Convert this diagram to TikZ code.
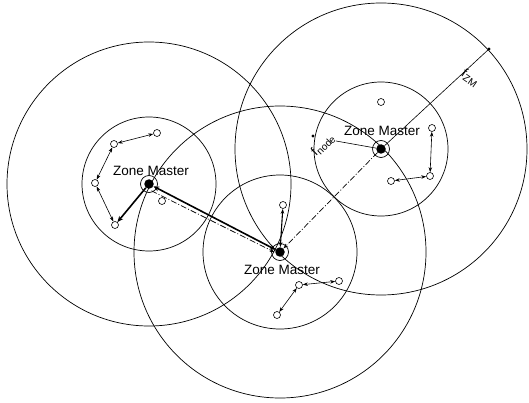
\documentclass[tikz,border=0pt]{standalone}
\usepackage{fontspec}
\setmainfont{Liberation Sans}
\usetikzlibrary{arrows.meta}

\newcommand{\radsub}[1]{\raisebox{-0.4ex}{\fontsize{10}{12}\selectfont #1}}

\tikzset{
  zone/.style={line width=0.7pt},
  sensor/.style={circle, draw, line width=0.6pt, minimum size=7pt, inner sep=0pt},
  master/.style={circle, fill=black, minimum size=9.5pt, inner sep=0pt},
  link/.style={<->, line width=0.6pt, >={Stealth[length=5pt,width=3.5pt]}},
  trunk/.style={line width=1.6pt, >={Stealth[length=6pt,width=5pt]}},
  relay/.style={->, line width=0.7pt, dash pattern=on 6pt off 2pt on 1pt off 2pt,
    >={Stealth[length=5pt,width=3.5pt]}},
  zmlabel/.style={font=\fontsize{13.5}{16}\selectfont, inner sep=0pt},
  radlabel/.style={font=\fontsize{13}{15}\selectfont, inner sep=0pt},
}

\begin{document}
\begin{tikzpicture}[x=1pt, y=-1pt]
    \useasboundingbox (0,0) rectangle (529,403);
    % Zone masters
    \node[master] (zm1) at (149,184) {};
    \node[master] (zm2) at (280,252) {};
    \node[master] (zm3) at (381,149) {};
    % Node range and zone master range round each master
    \draw[zone] (zm1) circle[radius=67];
    \draw[zone] (zm1) circle[radius=142];
    \draw[zone] (zm1) circle[radius=8.5];
    \draw[zone] (zm2) circle[radius=77];
    \draw[zone] (zm2) circle[radius=146];
    \draw[zone] (zm2) circle[radius=8.5];
    \draw[zone] (zm3) circle[radius=67];
    \draw[zone] (zm3) circle[radius=146];
    \draw[zone] (zm3) circle[radius=8.5];
    % Sensor nodes, left zone
    \node[sensor] (a1) at (157,133) {};
    \node[sensor] (a2) at (114,144) {};
    \node[sensor] (a3) at (95,183) {};
    \node[sensor] (a4) at (115,225) {};
    \node[sensor] (a5) at (162,201) {};
    % Sensor nodes, middle zone
    \node[sensor] (b1) at (283,205) {};
    \node[sensor] (b2) at (299,285) {};
    \node[sensor] (b3) at (339,281) {};
    \node[sensor] (b4) at (277,315) {};
    % Sensor nodes, right zone
    \node[sensor] (c1) at (381,102) {};
    \node[sensor] (c2) at (432,128) {};
    \node[sensor] (c3) at (430,176) {};
    \node[sensor] (c4) at (391,181) {};
    % Hops inside the zones
    \draw[link] (a1) -- (a2);
    \draw[link] (a2) -- (a3);
    \draw[link] (a3) -- (a4);
    \draw[trunk, ->] (zm1) -- (a4);
    \draw[link, line width=1.1pt] (zm2) -- (b1);
    \draw[link] (b3) -- (b2);
    \draw[link] (b2) -- (b4);
    \draw[link] (c2) -- (c3);
    \draw[link] (c3) -- (c4);
    % Master to master
    \draw[trunk, <->] (zm1) -- (zm2);
    \draw[relay] ([shift={(-2,4.5)}]zm1.-27) -- ([shift={(-1,2.5)}]zm2.153);
    \draw[relay] (zm3) -- (zm2);
    % Labels
    \node[zmlabel] (lab1) at (151,171) {Zone Master};
    \node[zmlabel] (lab2) at (282,270) {Zone Master};
    \node[zmlabel] (lab3) at (382,131) {Zone Master};
    % Radii
    \coordinate (rzm) at (489,49);
    \fill (rzm) circle[radius=1.6];
    \draw[line width=0.6pt] (zm3) -- (rzm);
    \node[radlabel, rotate=-35] (fzm) at (470,78) {f\radsub{ZM}};
    \coordinate (rnode) at (313,136);
    \coordinate (rnodeend) at (336,141);
    \fill (rnode) circle[radius=1.6];
    \draw[line width=0.6pt] (rnodeend) -- (zm3);
    \node[radlabel, rotate=45] (fnode) at (323,145) {f\radsub{node}};
\end{tikzpicture}
\end{document}
